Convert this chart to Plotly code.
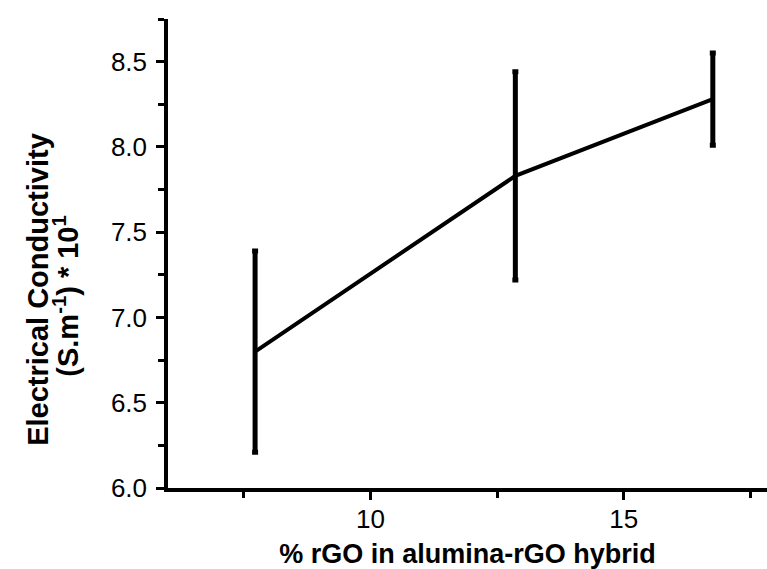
import plotly.graph_objects as go

# rGO content (%) and measured conductivity (S/m, scaled by 10^-1)
rgo_pct = [7.72, 12.86, 16.76]
conductivity = [6.80, 7.83, 8.28]
conductivity_err = [0.59, 0.61, 0.27]

y_ticks = [6.0, 6.5, 7.0, 7.5, 8.0, 8.5]
x_ticks = [10, 15]

y_title_lines = ["Electrical Conductivity", "(S.m<sup>-1</sup>) * 10<sup>1</sup>"]

FONT = "Liberation Sans, Arial, sans-serif"
PLOT_LEFT, PLOT_WIDTH = 168, 599

fig = go.Figure()
fig.add_trace(go.Scatter(
    x=rgo_pct,
    y=conductivity,
    mode="lines",
    line=dict(color="black", width=4),
    error_y=dict(type="data", array=conductivity_err, visible=True,
                 color="black", thickness=5, width=3),
    showlegend=False,
))

fig.update_layout(
    width=767, height=569,
    margin=dict(l=PLOT_LEFT, r=0, t=19, b=81),
    paper_bgcolor="white", plot_bgcolor="white",
    font=dict(family=FONT, color="black", size=26),
    xaxis=dict(
        range=[6, 17.83],
        showline=True, linecolor="black", linewidth=3.5,
        showgrid=False, zeroline=False,
        tickmode="array", tickvals=x_ticks, ticktext=[str(v) for v in x_ticks],
        ticks="outside", ticklen=8, tickwidth=3, tickcolor="black",
        minor=dict(dtick=2.5, tick0=0, ticks="outside", ticklen=6,
                   tickwidth=3, tickcolor="black"),
        tickfont=dict(size=26),
        ticklabelstandoff=-3,
        title=dict(text="<b>% rGO in alumina-rGO hybrid</b>",
                   font=dict(size=27), standoff=14),
    ),
    yaxis=dict(
        range=[6, 8.75],
        showline=True, linecolor="black", linewidth=3.5,
        showgrid=False, zeroline=False,
        tickmode="array", tickvals=y_ticks,
        ticktext=[f"{v:.1f}" for v in y_ticks],
        ticks="outside", ticklen=8, tickwidth=3, tickcolor="black",
        minor=dict(dtick=0.25, tick0=0, ticks="outside", ticklen=6,
                   tickwidth=3, tickcolor="black"),
        tickfont=dict(size=26),
        ticklabelstandoff=4,
    ),
)

# Two-line rotated y-axis title, each line placed on its own
for line_text, center_px, y_pos in zip(y_title_lines, [38, 66], [0.4225, 0.41]):
    fig.add_annotation(
        text=f"<b>{line_text}</b>",
        xref="paper", yref="paper",
        x=(center_px - PLOT_LEFT) / PLOT_WIDTH, y=y_pos,
        xanchor="center", yanchor="middle",
        textangle=-90, showarrow=False,
        font=dict(size=29, family=FONT, color="black"),
    )

fig.write_html("out.html")
